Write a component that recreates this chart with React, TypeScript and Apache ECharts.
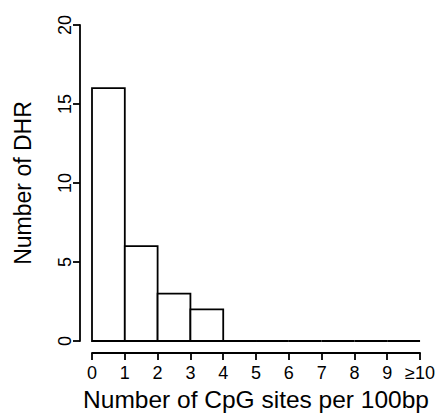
import React, { useEffect, useRef } from "react";
import * as echarts from "echarts";

const binStarts = [0, 1, 2, 3, 4, 5, 6, 7, 8, 9];
const counts = [16, 6, 3, 2, 0, 0, 0, 0, 0, 0];
const xTickLabels = ["0", "1", "2", "3", "4", "5", "6", "7", "8", "9", "≥10"];
const yTicks = [0, 5, 10, 15, 20];

const FONT = "'Liberation Sans', Arial, Helvetica, sans-serif";

export default function App() {
  const ref = useRef<HTMLDivElement>(null);
  useEffect(() => {
    if (!ref.current) return;
    const chart = echarts.init(ref.current, undefined, { renderer: "svg" });
    const data = binStarts.map((s, i) => [s, s + 1, counts[i]]);
    chart.setOption({
      animation: false,
      backgroundColor: "#ffffff",
      grid: { left: 92, right: 16, top: 25, bottom: 78 },
      xAxis: {
        type: "value",
        min: 0,
        max: 10,
        interval: 1,
        offset: 12,
        name: "Number of CpG sites per 100bp",
        nameLocation: "middle",
        nameGap: 32,
        nameTextStyle: { fontFamily: FONT, fontSize: 24.5, color: "#000" },
        axisLine: { show: true, onZero: false, lineStyle: { color: "#000", width: 1.8 } },
        axisTick: { show: true, length: 7, lineStyle: { color: "#000", width: 1.8 } },
        axisLabel: {
          margin: 11,
          fontFamily: FONT,
          fontSize: 18,
          color: "#000",
          formatter: (v: number) => xTickLabels[Math.round(v)] ?? "",
        },
        splitLine: { show: false },
      },
      yAxis: {
        type: "value",
        min: yTicks[0],
        max: yTicks[yTicks.length - 1],
        interval: 5,
        offset: 12,
        name: "Number of DHR",
        nameLocation: "middle",
        nameRotate: 90,
        nameGap: 46,
        nameTextStyle: { fontFamily: FONT, fontSize: 23, color: "#000" },
        axisLine: { show: true, onZero: false, lineStyle: { color: "#000", width: 1.8 } },
        axisTick: { show: true, length: 7, lineStyle: { color: "#000", width: 1.8 } },
        axisLabel: {
          rotate: 90,
          margin: 6,
          fontFamily: FONT,
          fontSize: 18,
          color: "#000",
        },
        splitLine: { show: false },
      },
      series: [
        {
          type: "custom",
          data,
          encode: { x: [0, 1], y: 2 },
          renderItem: (params: any, api: any) => {
            const x0 = api.value(0);
            const x1 = api.value(1);
            const h = api.value(2);
            const p0 = api.coord([x0, h]);
            const p1 = api.coord([x1, 0]);
            return {
              type: "rect",
              shape: { x: p0[0], y: p0[1], width: p1[0] - p0[0], height: p1[1] - p0[1] },
              style: { fill: "#ffffff", stroke: "#000000", lineWidth: 1.8 },
            };
          },
        },
      ],
    });
    return () => chart.dispose();
  }, []);
  return (
    <div
      ref={ref}
      style={{ position: "fixed", left: 0, top: 0, width: 438, height: 419 }}
    />
  );
}
